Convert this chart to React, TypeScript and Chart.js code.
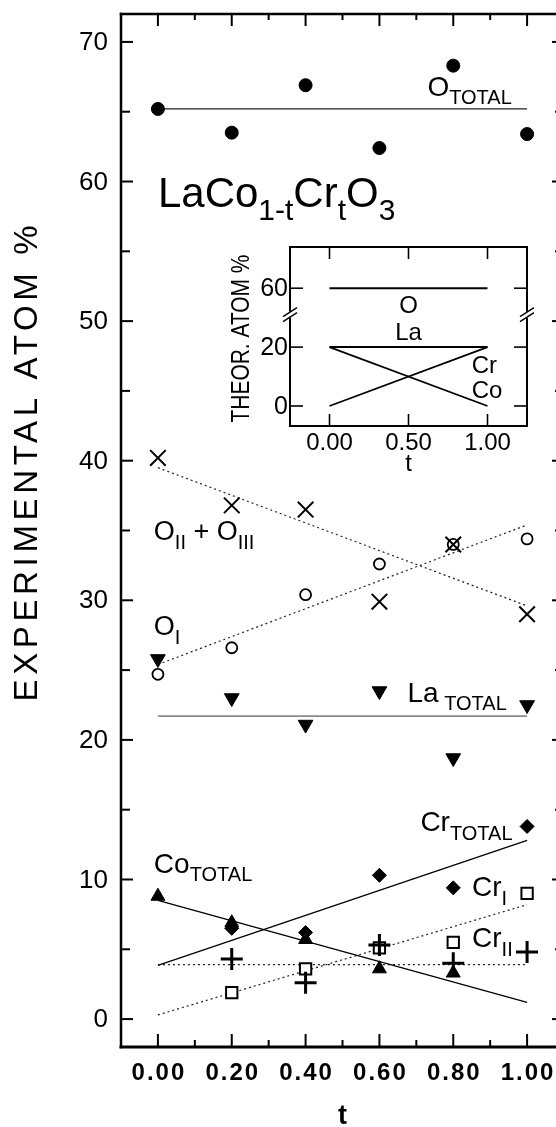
import React, { useEffect, useRef } from "react";
import { Chart, registerables } from "chart.js";

Chart.register(...registerables);

const FONT = '"Liberation Sans", Arial, Helvetica, sans-serif';

// ---------------- Main chart data ----------------
const T_VALUES = [0, 0.2, 0.4, 0.6, 0.8, 1.0];
const O_TOTAL = [65.2, 63.5, 66.9, 62.4, 68.3, 63.4];
const O_II_III = [40.2, 36.8, 36.5, 29.9, 34.0, 29.0];
const O_I = [24.7, 26.6, 30.4, 32.6, 34.0, 34.4];
const LA_TOTAL = [25.8, 23.0, 21.1, 23.5, 18.7, 22.5];
const CR_TOTAL = [null, 6.5, 6.2, 10.3, 9.4, 13.8];
const CO_TOTAL = [8.8, 6.9, 5.7, 3.6, 3.3, null];
const CR_I = [null, 1.9, 3.6, 5.1, 5.5, 9.0];
const CR_II = [null, 4.3, 2.6, 5.3, 4.0, 4.8];

// fitted / guide lines: values at t = 0 and t = 1
const FIT_T = [0, 1];
const O_TOTAL_FIT = [65.2, 65.2];
const O_II_III_FIT = [39.5, 29.6];
const O_I_FIT = [25.4, 35.4];
const LA_TOTAL_FIT = [21.7, 21.7];
const CR_TOTAL_FIT = [3.85, 12.8];
const CO_TOTAL_FIT = [8.5, 1.2];
const CR_I_FIT = [0.3, 8.2];
const CR_II_FIT = [3.9, 3.9];

const X_TICK_LABELS = ["0.00", "0.20", "0.40", "0.60", "0.80", "1.00"];
const Y_TICK_LABELS = ["0", "10", "20", "30", "40", "50", "60", "70"];
const X_TITLE = "t";
const Y_TITLE = "EXPERIMENTAL ATOM %";

// ---------------- Inset data ----------------
const INSET_T = [0, 1];
const INSET_O = [60, 60];
const INSET_LA = [20, 20];
const INSET_CR = [0, 20];
const INSET_CO = [20, 0];
const INSET_X_TICKS = ["0.00", "0.50", "1.00"];
const INSET_Y_TICKS = ["0", "20", "60"];
const INSET_Y_TITLE = "THEOR. ATOM %";
const INSET_X_TITLE = "t";
const INSET_BREAK_AT = 30;
const INSET_BREAK_GAP = 20;
const brk = (v: number) => (v > INSET_BREAK_AT ? v - INSET_BREAK_GAP : v);

type Part = [string, boolean?];
type Annotation = { t: number; v: number; size: number; sub: number; drop: number; parts: Part[] };

const ANNOTATIONS: Annotation[] = [
  { t: 0.0, v: 58.2, size: 42, sub: 30, drop: 13, parts: [["LaCo"], ["1-t", true], ["Cr"], ["t", true], ["O"], ["3", true]] },
  { t: 0.73, v: 66.1, size: 28, sub: 20, drop: 8, parts: [["O"], ["TOTAL", true]] },
  { t: -0.011, v: 34.35, size: 27, sub: 20, drop: 9, parts: [["O"], ["II", true], [" + O"], ["III", true]] },
  { t: -0.011, v: 27.5, size: 27, sub: 20, drop: 9, parts: [["O"], ["I", true]] },
  { t: 0.676, v: 22.74, size: 28, sub: 20, drop: 8, parts: [["La"], [" TOTAL", true]] },
  { t: 0.711, v: 13.47, size: 28, sub: 20, drop: 9, parts: [["Cr"], ["TOTAL", true]] },
  { t: -0.011, v: 10.48, size: 28, sub: 20, drop: 8, parts: [["Co"], ["TOTAL", true]] },
  { t: 0.851, v: 8.84, size: 28, sub: 20, drop: 9, parts: [["Cr"], ["I", true]] },
  { t: 0.851, v: 5.13, size: 28, sub: 20, drop: 9, parts: [["Cr"], ["II", true]] },
];

type InsetLabel = { t: number; v: number; text: string; align: CanvasTextAlign };
const INSET_LABELS: InsetLabel[] = [
  { t: 0.5, v: 33.8, text: "O", align: "center" },
  { t: 0.5, v: 24.8, text: "La", align: "center" },
  { t: 0.9, v: 13.3, text: "Cr", align: "left" },
  { t: 0.9, v: 4.8, text: "Co", align: "left" },
];

const pts = (xs: number[], ys: (number | null)[]) =>
  xs.map((x, i) => ({ x, y: ys[i] })).filter((p) => p.y !== null);

function markers(label: string, ys: (number | null)[], ps: string, r: number, fill: string, bw: number, rot = 0) {
  return {
    label,
    data: pts(T_VALUES, ys),
    showLine: false,
    pointStyle: ps,
    pointRadius: r,
    pointHoverRadius: r,
    pointRotation: rot,
    pointBackgroundColor: fill,
    pointBorderColor: "#000",
    pointBorderWidth: bw,
  };
}

function fitLine(label: string, ys: number[], color: string, width: number, dash: number[] = []) {
  return {
    label,
    data: pts(FIT_T, ys),
    showLine: true,
    borderColor: color,
    borderWidth: width,
    borderDash: dash,
    pointRadius: 0,
    pointHoverRadius: 0,
  };
}

function line(ctx: CanvasRenderingContext2D, x1: number, y1: number, x2: number, y2: number) {
  ctx.beginPath();
  ctx.moveTo(x1, y1);
  ctx.lineTo(x2, y2);
  ctx.stroke();
}

function drawRich(ctx: CanvasRenderingContext2D, x: number, y: number, a: Annotation) {
  let cx = x;
  ctx.textAlign = "left";
  ctx.textBaseline = "alphabetic";
  for (const [s, sub] of a.parts) {
    ctx.font = `${sub ? a.sub : a.size}px ${FONT}`;
    ctx.fillText(s, cx, sub ? y + a.drop : y);
    cx += ctx.measureText(s).width;
  }
}

const mainDecor = {
  id: "mainDecor",
  beforeDraw(chart: any) {
    const { ctx, width, height } = chart;
    ctx.save();
    ctx.fillStyle = "#fff";
    ctx.fillRect(0, 0, width, height);
    ctx.restore();
  },
  afterDraw(chart: any) {
    const { ctx, chartArea: a, scales } = chart;
    const x = scales.x;
    const y = scales.y;
    ctx.save();
    ctx.strokeStyle = "#000";
    ctx.fillStyle = "#000";
    ctx.lineCap = "square";
    // frame
    ctx.lineWidth = 2.5;
    line(ctx, a.left, a.top, a.right, a.top);
    line(ctx, a.left, a.top, a.left, a.bottom);
    line(ctx, a.right, a.top, a.right, a.bottom);
    ctx.lineWidth = 3;
    line(ctx, a.left, a.bottom, a.right, a.bottom);
    // y ticks
    ctx.lineCap = "butt";
    ctx.lineWidth = 2;
    for (let v = 0; v <= 70; v += 5) {
      const py = y.getPixelForValue(v);
      const len = v % 10 === 0 ? 12 : 9;
      line(ctx, a.left, py, a.left + len, py);
      line(ctx, a.right, py, a.right - len, py);
    }
    // x ticks
    for (let i = 0; i <= 10; i++) {
      const px = x.getPixelForValue(i / 10);
      const major = i % 2 === 0;
      line(ctx, px, a.bottom, px, a.bottom - (major ? 13 : 7));
      line(ctx, px, a.top, px, a.top + (major ? 12 : 6));
    }
    // y tick labels
    ctx.font = `26px ${FONT}`;
    ctx.textAlign = "right";
    ctx.textBaseline = "middle";
    Y_TICK_LABELS.forEach((lbl) => {
      ctx.fillText(lbl, a.left - 13, y.getPixelForValue(parseFloat(lbl)) + 1);
    });
    // x tick labels
    ctx.font = `bold 24px ${FONT}`;
    (ctx as any).letterSpacing = "2px";
    ctx.textAlign = "center";
    ctx.textBaseline = "alphabetic";
    X_TICK_LABELS.forEach((lbl) => {
      ctx.fillText(lbl, x.getPixelForValue(parseFloat(lbl)) + 1, a.bottom + 33);
    });
    (ctx as any).letterSpacing = "0px";
    // x title
    ctx.font = `bold 27px ${FONT}`;
    ctx.fillText(X_TITLE, x.getPixelForValue(0.5), a.bottom + 77);
    // y title
    ctx.save();
    ctx.font = `33px ${FONT}`;
    const w0 = ctx.measureText(Y_TITLE).width;
    const spacing = (476 - w0) / (Y_TITLE.length - 1);
    (ctx as any).letterSpacing = `${spacing}px`;
    ctx.translate(28, y.getPixelForValue(39.8));
    ctx.rotate(-Math.PI / 2);
    ctx.textAlign = "center";
    ctx.textBaseline = "middle";
    ctx.fillText(Y_TITLE, spacing / 2, 0);
    ctx.restore();
    // annotations
    ANNOTATIONS.forEach((an) => drawRich(ctx, x.getPixelForValue(an.t), y.getPixelForValue(an.v), an));
    ctx.restore();
  },
};

const insetDecor = {
  id: "insetDecor",
  beforeDatasetsDraw(chart: any) {
    const { ctx, chartArea: a } = chart;
    ctx.save();
    ctx.fillStyle = "#fff";
    ctx.fillRect(a.left, a.top, a.right - a.left, a.bottom - a.top);
    ctx.restore();
  },
  afterDraw(chart: any) {
    const { ctx, chartArea: a, scales } = chart;
    const x = scales.x;
    const y = scales.y;
    ctx.save();
    ctx.strokeStyle = "#000";
    ctx.fillStyle = "#000";
    ctx.lineWidth = 2;
    ctx.lineCap = "square";
    ctx.strokeRect(a.left, a.top, a.right - a.left, a.bottom - a.top);
    ctx.lineCap = "butt";
    ctx.lineWidth = 1.6;
    INSET_X_TICKS.forEach((lbl) => {
      const px = x.getPixelForValue(parseFloat(lbl));
      line(ctx, px, a.bottom, px, a.bottom - 12);
      line(ctx, px, a.top, px, a.top + 12);
    });
    INSET_Y_TICKS.forEach((lbl) => {
      const py = y.getPixelForValue(brk(parseFloat(lbl)));
      line(ctx, a.left, py, a.left + 13, py);
      line(ctx, a.right, py, a.right - 13, py);
    });
    // axis breaks
    const by = y.getPixelForValue(INSET_BREAK_AT + 1);
    [a.left, a.right].forEach((bx) => {
      ctx.fillStyle = "#fff";
      ctx.fillRect(bx - 3, by - 3, 6, 6);
      ctx.fillStyle = "#000";
      ctx.lineWidth = 1.4;
      line(ctx, bx - 7, by + 2, bx + 7, by - 7);
      line(ctx, bx - 7, by + 7, bx + 7, by - 2);
    });
    // tick labels
    ctx.font = `25px ${FONT}`;
    ctx.textAlign = "right";
    ctx.textBaseline = "middle";
    INSET_Y_TICKS.forEach((lbl) => {
      ctx.fillText(lbl, a.left - 2, y.getPixelForValue(brk(parseFloat(lbl))) + 1);
    });
    ctx.font = `24px ${FONT}`;
    ctx.textAlign = "center";
    ctx.textBaseline = "alphabetic";
    INSET_X_TICKS.forEach((lbl) => {
      ctx.fillText(lbl, x.getPixelForValue(parseFloat(lbl)), a.bottom + 24);
    });
    ctx.fillText(INSET_X_TITLE, x.getPixelForValue(0.5), a.bottom + 45);
    // y title (condensed to fit the frame height)
    ctx.save();
    ctx.font = `25px ${FONT}`;
    const tw = ctx.measureText(INSET_Y_TITLE).width;
    const sx = 168 / tw;
    ctx.translate(a.left - 48, (a.top + a.bottom) / 2 + 2);
    ctx.rotate(-Math.PI / 2);
    ctx.scale(sx, 1);
    ctx.textAlign = "center";
    ctx.textBaseline = "middle";
    ctx.fillText(INSET_Y_TITLE, 0, 0);
    ctx.restore();
    // line labels
    ctx.font = `24px ${FONT}`;
    ctx.textBaseline = "middle";
    INSET_LABELS.forEach((l) => {
      ctx.textAlign = l.align;
      ctx.fillText(l.text, x.getPixelForValue(l.t), y.getPixelForValue(l.v));
    });
    ctx.restore();
  },
};

export default function App() {
  const mainRef = useRef<HTMLCanvasElement>(null);
  const insetRef = useRef<HTMLCanvasElement>(null);

  useEffect(() => {
    const main = new Chart(mainRef.current as HTMLCanvasElement, {
      type: "scatter",
      data: {
        datasets: [
          markers("O total", O_TOTAL, "circle", 6.5, "#000", 1),
          markers("O II + O III", O_II_III, "crossRot", 11, "#000", 2),
          markers("O I", O_I, "circle", 5.5, "#fff", 1.8),
          markers("La total", LA_TOTAL, "triangle", 8.5, "#000", 1, 180),
          markers("Cr II", CR_II, "cross", 11, "#000", 3),
          markers("Cr I", CR_I, "rect", 8, "#fff", 2),
          markers("Cr total", CR_TOTAL, "rectRot", 7, "#000", 1),
          markers("Co total", CO_TOTAL, "triangle", 8, "#000", 1),
          fitLine("O total fit", O_TOTAL_FIT, "#222", 1.2),
          fitLine("O II + O III fit", O_II_III_FIT, "#222", 1.2, [2, 3]),
          fitLine("O I fit", O_I_FIT, "#222", 1.2, [2, 3]),
          fitLine("La total fit", LA_TOTAL_FIT, "#8a8a8a", 1.6),
          fitLine("Cr total fit", CR_TOTAL_FIT, "#000", 1.3),
          fitLine("Co total fit", CO_TOTAL_FIT, "#000", 1.3),
          fitLine("Cr I fit", CR_I_FIT, "#222", 1.2, [2, 3]),
          fitLine("Cr II fit", CR_II_FIT, "#222", 1.2, [2, 3]),
        ] as any,
      },
      options: {
        animation: false,
        responsive: false,
        devicePixelRatio: 1,
        events: [],
        layout: { padding: { left: 121, top: 10, right: 16, bottom: 80 } },
        plugins: { legend: { display: false }, tooltip: { enabled: false } },
        scales: {
          x: { type: "linear", display: false, min: -0.1, max: 1.1 },
          y: { type: "linear", display: false, min: -2, max: 72 },
        },
      } as any,
      plugins: [mainDecor],
    });

    const inset = new Chart(insetRef.current as HTMLCanvasElement, {
      type: "scatter",
      data: {
        datasets: [
          { label: "O", data: pts(INSET_T, INSET_O.map(brk)), showLine: true, borderColor: "#000", borderWidth: 2, pointRadius: 0 },
          { label: "La", data: pts(INSET_T, INSET_LA.map(brk)), showLine: true, borderColor: "#000", borderWidth: 2, pointRadius: 0 },
          { label: "Cr", data: pts(INSET_T, INSET_CR.map(brk)), showLine: true, borderColor: "#000", borderWidth: 1.8, pointRadius: 0 },
          { label: "Co", data: pts(INSET_T, INSET_CO.map(brk)), showLine: true, borderColor: "#000", borderWidth: 1.8, pointRadius: 0 },
        ] as any,
      },
      options: {
        animation: false,
        responsive: false,
        devicePixelRatio: 1,
        events: [],
        layout: { padding: { left: 68, top: 7, right: 7, bottom: 50 } },
        plugins: { legend: { display: false }, tooltip: { enabled: false } },
        scales: {
          x: { type: "linear", display: false, min: -0.25, max: 1.25 },
          y: { type: "linear", display: false, min: -6.8, max: 54 },
        },
      } as any,
      plugins: [insetDecor],
    });

    return () => {
      main.destroy();
      inset.destroy();
    };
  }, []);

  return (
    <div style={{ position: "absolute", left: 0, top: 0, width: 556, height: 1127, overflow: "hidden", background: "#fff" }}>
      <canvas ref={mainRef} width={580} height={1127} style={{ position: "absolute", left: 0, top: 0, width: 580, height: 1127 }} />
      <canvas ref={insetRef} width={312} height={236} style={{ position: "absolute", left: 222, top: 240, width: 312, height: 236 }} />
    </div>
  );
}
